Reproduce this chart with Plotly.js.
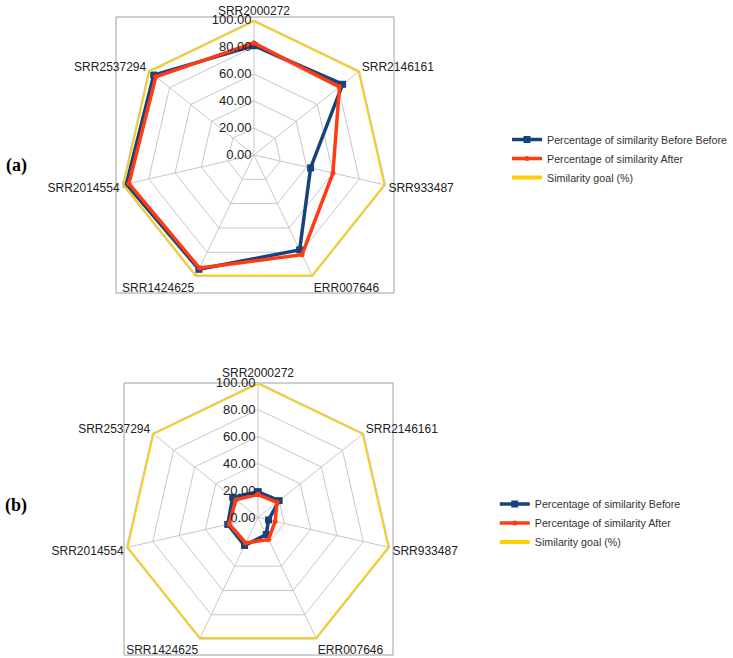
<!DOCTYPE html>
<html>
<head>
<meta charset="utf-8">
<script src="https://cdn.plot.ly/plotly-3.0.1.min.js"></script>
<style>
  body { margin: 0; background: #fff; }
  #radar { width: 733px; height: 658px; }
</style>
</head>
<body>
<div id="radar"></div>
<script>
// samples, clockwise from the top
let samples = ['SRR2000272', 'SRR2146161', 'SRR933487', 'ERR007646', 'SRR1424625', 'SRR2014554', 'SRR2537294'];

// (a)
let beforeA = [81, 84, 43, 78, 94, 97, 95];
let afterA  = [83, 81, 60, 82, 93, 95, 93];
// (b)
let beforeB = [19, 20, 8, 14, 23, 23, 24];
let afterB  = [17, 18, 13, 18, 21, 22, 21];
// goal is the same on both
let goal = [100, 100, 100, 100, 100, 100, 100];

let radialTicks = [0, 20, 40, 60, 80, 100];

// repeat the first point so the polygon closes
function close(arr) { return arr.concat([arr[0]]); }
let theta = close(samples);

let navy = '#16437e';
let red = '#ff3b14';
let gold = '#ffd000';

function series(r, name, color, symbol, size, width, subplot, legend) {
  return {
    type: 'scatterpolar',
    r: close(r),
    theta: theta,
    name: name,
    subplot: subplot,
    legend: legend,
    mode: symbol ? 'lines+markers' : 'lines',
    line: {color: color, width: width},
    marker: {color: color, symbol: symbol || 'circle', size: size},
    cliponaxis: false
  };
}

let data = [
  series(beforeA, 'Percentage of similarity Before Before', navy, 'square', 7, 3.5, 'polar', 'legend'),
  series(afterA, 'Percentage of similarity After', red, 'circle', 5, 3.5, 'polar', 'legend'),
  series(goal, 'Similarity goal (%)', gold, null, 0, 4, 'polar', 'legend'),
  series(beforeB, 'Percentage of similarity Before', navy, 'square', 7, 3.5, 'polar2', 'legend2'),
  series(afterB, 'Percentage of similarity After', red, 'circle', 5, 3.5, 'polar2', 'legend2'),
  series(goal, 'Similarity goal (%)', gold, null, 0, 4, 'polar2', 'legend2')
];

function polarAxes(xDom, yDom) {
  return {
    domain: {x: xDom, y: yDom},
    gridshape: 'linear',
    bgcolor: 'rgba(0,0,0,0)',
    radialaxis: {
      range: [0, 100],
      tickvals: radialTicks,
      tickformat: '.2f',
      angle: 90,
      side: 'counterclockwise',
      tickangle: 90,
      showline: false,
      ticks: '',
      gridcolor: '#c8c8c8',
      gridwidth: 1,
      tickfont: {family: 'Liberation Sans, Arial, sans-serif', size: 13, color: '#222'}
    },
    angularaxis: {
      direction: 'clockwise',
      rotation: 90,
      ticks: '',
      linecolor: '#c8c8c8',
      gridcolor: '#c8c8c8',
      tickfont: {family: 'Liberation Sans, Arial, sans-serif', size: 12, color: '#222'}
    }
  };
}

let legendStyle = {
  font: {family: 'Liberation Sans, Arial, sans-serif', size: 10.7, color: '#333'},
  bgcolor: 'rgba(0,0,0,0)',
  itemwidth: 30,
  xanchor: 'left',
  yanchor: 'top',
  tracegroupgap: 0
};

let layout = {
  width: 733,
  height: 658,
  // legends sit near the right edge; keep them from pushing the margins
  margin: {l: 0, r: 0, t: 0, b: 0, autoexpand: false},
  paper_bgcolor: '#fff',
  showlegend: true,
  polar: polarAxes([0.1623, 0.5307], [0.5593, 0.9696]),
  polar2: polarAxes([0.1678, 0.5362], [0.0084, 0.4187]),
  legend: Object.assign({x: 0.6917, y: 0.81}, legendStyle),
  legend2: Object.assign({x: 0.675, y: 0.256}, legendStyle),
  shapes: [
    {type: 'rect', xref: 'paper', yref: 'paper', x0: 116 / 733, x1: 394 / 733, y0: 1 - 293 / 658, y1: 1 - 17 / 658,
     line: {color: '#a0a0a0', width: 1}, layer: 'below'},
    {type: 'rect', xref: 'paper', yref: 'paper', x0: 124 / 733, x1: 393 / 733, y0: 1 - 655 / 658, y1: 1 - 383 / 658,
     line: {color: '#a0a0a0', width: 1}, layer: 'below'}
  ],
  annotations: [
    {text: '<b>(a)</b>', xref: 'paper', yref: 'paper', x: 16 / 733, y: 1 - 153 / 658, xanchor: 'center', showarrow: false,
     font: {family: 'Liberation Serif, serif', size: 18, color: '#000'}},
    {text: '<b>(b)</b>', xref: 'paper', yref: 'paper', x: 16 / 733, y: 1 - 518 / 658, xanchor: 'center', showarrow: false,
     font: {family: 'Liberation Serif, serif', size: 18, color: '#000'}}
  ]
};

Plotly.newPlot('radar', data, layout, {displayModeBar: false});
</script>
</body>
</html>
